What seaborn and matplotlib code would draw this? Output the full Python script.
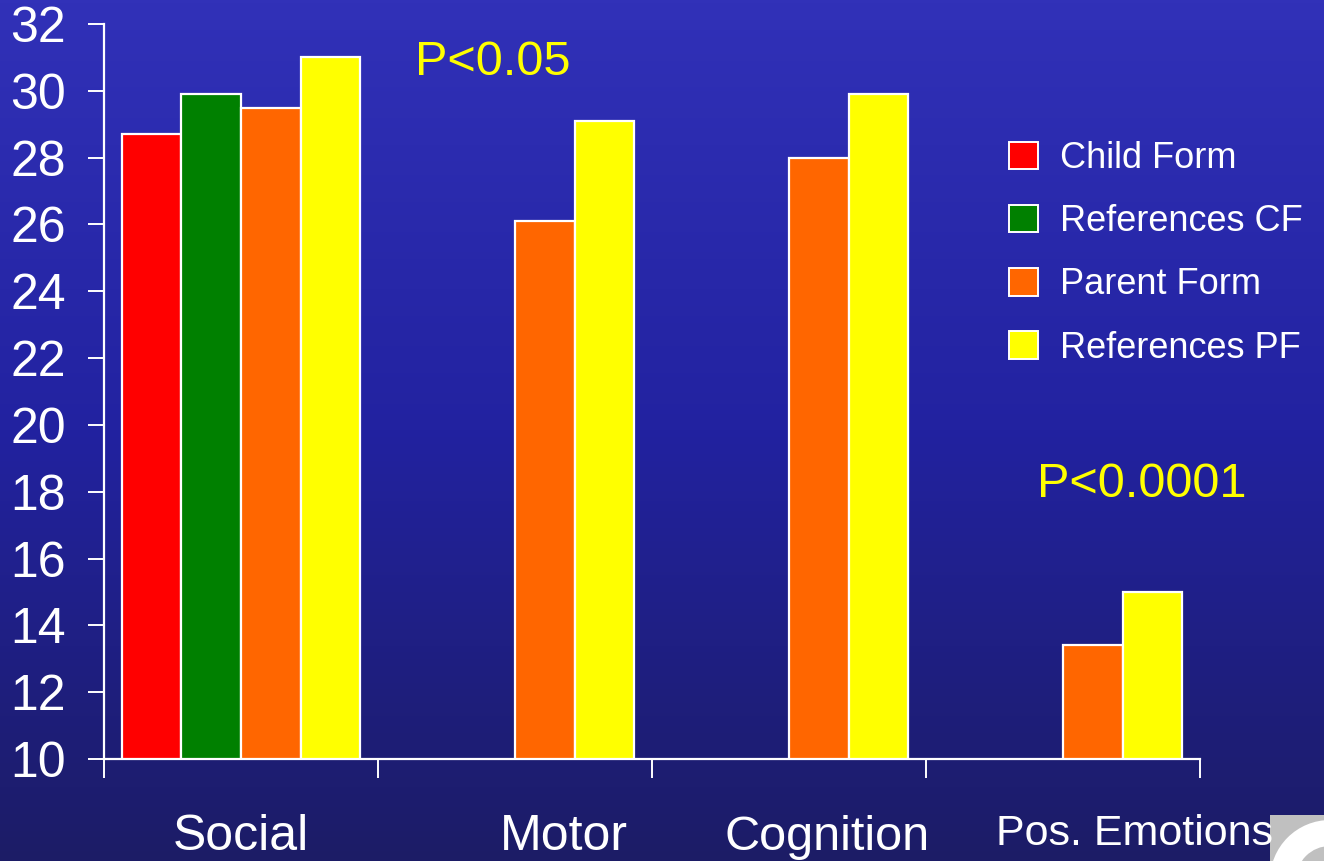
import numpy as np
import pandas as pd
import matplotlib
matplotlib.use("Agg")
import matplotlib.pyplot as plt
import seaborn as sns
from matplotlib.patches import Patch, Rectangle, Circle
from matplotlib.colors import LinearSegmentedColormap
from matplotlib.transforms import blended_transform_factory

# ---- data -------------------------------------------------------------
categories = ["Social", "Motor", "Cognition", "Pos. Emotions"]
series = ["Child Form", "References CF", "Parent Form", "References PF"]
child_form = [28.7, None, None, None]
references_cf = [29.9, None, None, None]
parent_form = [29.5, 26.1, 28.0, 13.4]
references_pf = [31.0, 29.1, 29.9, 15.0]
y_ticks = [10, 12, 14, 16, 18, 20, 22, 24, 26, 28, 30, 32]
annotations = ["P<0.05", "P<0.0001"]

colors = ["#FF0000", "#008000", "#FF6600", "#FFFF00"]

rows = []
for name, vals in zip(series, [child_form, references_cf, parent_form, references_pf]):
    for cat, v in zip(categories, vals):
        if v is not None:
            rows.append({"category": cat, "series": name, "score": v})
df = pd.DataFrame(rows)

# ---- style ------------------------------------------------------------
sns.set_style("white")
plt.rcParams["font.family"] = ["Liberation Sans", "DejaVu Sans"]

W, H = 1324, 861
fig = plt.figure(figsize=(W / 100, H / 100), dpi=100)

# slide-style vertical gradient background (pixel coordinates)
bg = fig.add_axes([0, 0, 1, 1], zorder=-10)
grad = LinearSegmentedColormap.from_list("slide", ["#1C1C66", "#2222A0", "#3131B8"])
bg.imshow(np.linspace(0, 1, 256)[::-1, None], aspect="auto", cmap=grad,
          extent=[0, W, H, 0])
bg.set_xlim(0, W)
bg.set_ylim(H, 0)
# corner logo fragment of the slide template
bg.add_patch(Rectangle((1270, 815), W - 1270, H - 815, color="#C0C0C0", lw=0))
bg.add_patch(Circle((1330, 880), 60, color="white", lw=0))
bg.add_patch(Circle((1330, 880), 34, color="#C0C0C0", lw=0))
bg.set_axis_off()

ax = fig.add_axes([104 / W, 1 - 759 / H, (1200 - 104) / W, (759 - 24) / H])
ax.set_facecolor("none")

sns.barplot(data=df, x="category", y="score", hue="series",
            order=categories, hue_order=series, palette=colors,
            width=0.87, dodge=True, saturation=1, ax=ax,
            edgecolor="white", linewidth=1.6, legend=False)

ax.set_xlim(-0.5, len(categories) - 0.5)
ax.set_ylim(y_ticks[0], y_ticks[-1])
ax.set_xlabel("")
ax.set_ylabel("")

for side in ["top", "right"]:
    ax.spines[side].set_visible(False)
for side in ["left", "bottom"]:
    ax.spines[side].set_color("white")
    ax.spines[side].set_linewidth(1.6)

ax.set_yticks(y_ticks)
ax.tick_params(axis="y", colors="white", labelsize=36, length=11.5,
               width=1.4, pad=16, direction="out", left=True)

# category boundaries as tick marks, names placed beneath each group
ax.set_xticks([])
ax.set_xticks(np.arange(len(categories) + 1) - 0.5, minor=True)
ax.tick_params(axis="x", which="minor", colors="white", length=13.5,
               width=1.4, direction="out", bottom=True)

label_shift = [0.0, 0.18, 0.14, 0.26]
label_size = [36, 36, 35, 31]
trans = blended_transform_factory(ax.transData, ax.transAxes)
for i, (cat, dx, fs) in enumerate(zip(categories, label_shift, label_size)):
    ax.text(i + dx, -0.1235 if i < 3 else -0.117, cat, transform=trans,
            ha="center", va="baseline", color="white", fontsize=fs, zorder=5)

# significance notes
ax.text(0.635, 30.47, annotations[0], color="#FFFF00", fontsize=35,
        ha="left", va="baseline")
ax.text(2.905, 17.84, annotations[1], color="#FFFF00", fontsize=35,
        ha="left", va="baseline")

handles = [Patch(facecolor=c, edgecolor="white", linewidth=1.4) for c in colors]
leg = fig.legend(handles, series, loc="upper left",
                 bbox_to_anchor=(1009 / W, 1 - 141 / H), frameon=False,
                 fontsize=26, handlelength=0.8, handleheight=0.8,
                 handletextpad=0.6, labelspacing=0.78, borderpad=0,
                 borderaxespad=0)
for t in leg.get_texts():
    t.set_color("white")

fig.savefig("out.png", dpi=100)
